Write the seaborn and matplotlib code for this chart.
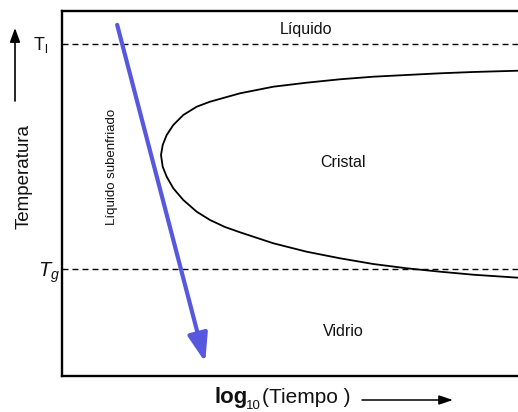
import matplotlib
matplotlib.use("Agg")
import matplotlib.pyplot as plt
import pandas as pd
import seaborn as sns

# Reduced coordinates: log10(time) on 0..10, temperature on 0..100
t_liquidus = 91.0
t_glass = 29.2

# Crystallisation nose curve: upper branch -> nose -> lower branch
curve_logt = [10.0, 9.020, 8.289, 7.559, 6.827, 6.096, 5.366, 4.634, 3.904,
              3.575, 3.246, 2.954, 2.660, 2.441, 2.296, 2.208, 2.171, 2.208,
              2.296, 2.441, 2.660, 2.954, 3.246, 3.575, 3.904, 4.634, 5.366,
              6.096, 6.827, 7.559, 8.289, 9.020, 10.0]
curve_temp = [83.64, 83.29, 82.93, 82.47, 82.0, 81.29, 80.36, 79.26, 77.45,
              76.30, 75.15, 73.78, 71.51, 68.77, 66.03, 63.29, 60.55, 57.34,
              54.60, 51.42, 48.22, 45.01, 42.74, 40.82, 39.37, 36.36, 34.05,
              32.25, 30.68, 29.51, 28.58, 27.75, 26.93]

# Cooling path of the supercooled liquid (start, end)
cool_logt = [1.21, 3.14]
cool_temp = [96.2, 3.8]

region_labels = ["Líquido", "Cristal", "Vidrio"]
region_logt = [5.35, 6.16, 6.16]
region_temp = [94.8, 58.4, 12.1]

W, H = 518, 412
sns.set_theme(style="white")
plt.rcParams["font.family"] = ["Liberation Sans", "DejaVu Sans"]
plt.rcParams["mathtext.fontset"] = "custom"
plt.rcParams["mathtext.rm"] = "Liberation Sans"
plt.rcParams["mathtext.it"] = "Liberation Sans:italic"

fig = plt.figure(figsize=(W / 100, H / 100), dpi=100)
ax = fig.add_axes([62 / W, 36 / H, 1 - 62 / W, (376 - 11) / H])
ax.set_xlim(0, 10)
ax.set_ylim(0, 100)

for side in ["left", "top", "bottom"]:
    ax.spines[side].set_color("black")
    ax.spines[side].set_linewidth(1.7)
ax.spines["right"].set_visible(False)
ax.set_xticks([])
ax.set_yticks([])

for level in (t_liquidus, t_glass):
    ax.axhline(level, color="black", lw=1.0, ls=(0, (4.3, 2.9)))

df = pd.DataFrame({"logt": curve_logt, "temp": curve_temp})
sns.lineplot(data=df, x="logt", y="temp", sort=False, estimator=None,
             color="black", lw=1.3, ax=ax)
for ln in ax.lines:
    ln.set_solid_joinstyle("round")
ax.set_xlabel("")
ax.set_ylabel("")

ax.annotate("", xy=(cool_logt[1], cool_temp[1]), xytext=(cool_logt[0], cool_temp[0]),
            arrowprops=dict(arrowstyle="-|>,head_length=0.9,head_width=0.32",
                            color="#5858de", lw=3, shrinkA=0, shrinkB=0,
                            mutation_scale=19))

for label, x, y in zip(region_labels, region_logt, region_temp):
    ax.text(x, y, label, ha="center", va="center", fontsize=11.5, color="#111111")

ax.text(1.10, 57.3, "Líquido subenfriado", rotation=90, ha="center", va="center",
        fontsize=9.5, color="#111111")


def fx(px):
    return px / W


def fy(py):
    return 1 - py / H


fig.text(fx(24), fy(177), "Temperatura", rotation=90, ha="center", va="center",
         fontsize=13.5, color="#111111")
fig.text(fx(41), fy(45), r"$\mathregular{T_l}$", ha="center", va="center",
         fontsize=13, color="#111111")
fig.text(fx(49), fy(273), r"$T_g$", ha="center", va="center",
         fontsize=14.5, color="#111111")

# Axis direction arrows
fig.add_artist(matplotlib.patches.FancyArrowPatch(
    (fx(15), fy(101)), (fx(15), fy(28)), transform=fig.transFigure,
    arrowstyle="-|>,head_length=0.6,head_width=0.22", mutation_scale=14,
    color="black", lw=1.2, shrinkA=0, shrinkB=0))
fig.add_artist(matplotlib.patches.FancyArrowPatch(
    (fx(362), fy(400)), (fx(453), fy(400)), transform=fig.transFigure,
    arrowstyle="-|>,head_length=0.6,head_width=0.2", mutation_scale=14,
    color="black", lw=1.1, shrinkA=0, shrinkB=0))

fig.text(fx(215), fy(403), "log", ha="left", va="baseline", fontsize=16,
         fontweight="bold", color="#111111")
fig.text(fx(246), fy(409), "10", ha="left", va="baseline", fontsize=9.5,
         color="#111111")
fig.text(fx(262), fy(403), "(Tiempo )", ha="left", va="baseline", fontsize=15,
         color="#111111")

fig.savefig("out.png", dpi=100, facecolor="white")
